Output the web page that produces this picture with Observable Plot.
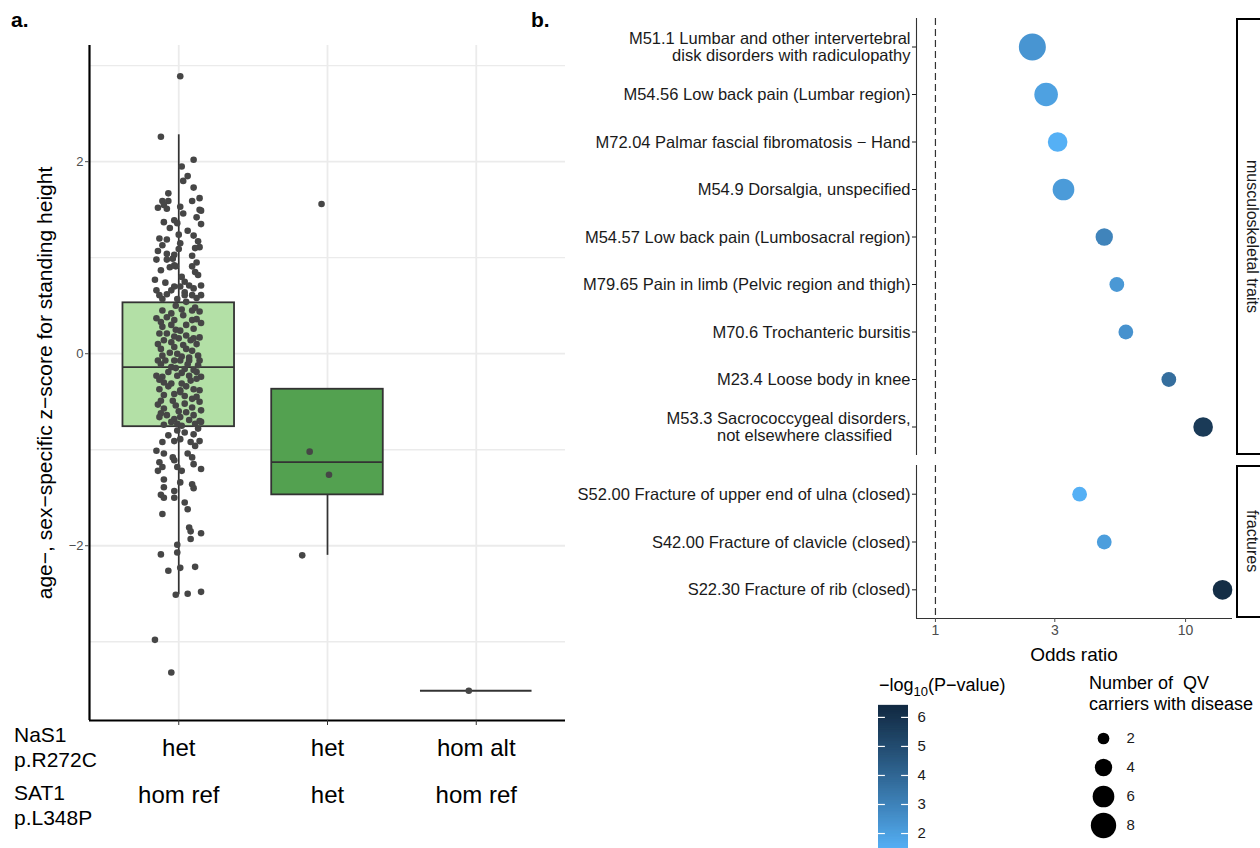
<!DOCTYPE html>
<html><head><meta charset="utf-8">
<script src="https://cdn.jsdelivr.net/npm/d3@7"></script>
<script src="https://cdn.jsdelivr.net/npm/@observablehq/plot@0.6"></script>
<style>
html,body{margin:0;padding:0;background:#fff;}
#fig{position:relative;width:1260px;height:848px;overflow:hidden;background:#fff;font-family:"Liberation Sans",Arial,sans-serif;color:#000;}
.abs{position:absolute;white-space:pre;}
.strip{position:absolute;box-sizing:border-box;border:2px solid #000;background:#fff;display:flex;align-items:center;justify-content:center;}
.strip span{writing-mode:vertical-rl;font-size:16px;color:#1a1a1a;}
</style></head><body><div id="fig"></div>
<script>
// ---------- Panel a data ----------
const groupNaS1 = ["het", "het", "hom alt"];
const groupSAT1 = ["hom ref", "het", "hom ref"];
const boxQ1 = [-0.76, -1.47, -3.51];
const boxMedian = [-0.14, -1.13, -3.51];
const boxQ3 = [0.53, -0.37, -3.51];
const whiskerLow = [-2.51, -2.10, -3.51];
const whiskerHigh = [2.28, -0.37, -3.51];

const g1Values = [2.89,2.26,2.02,1.95,1.85,1.80,1.73,1.67,1.62,1.59,1.59,1.59,1.52,1.55,1.51,1.53,1.50,1.49,1.46,1.37,1.39,1.36,1.35,1.20,1.19,1.24,1.23,1.15,1.17,1.11,1.07,1.04,1.03,1.09,1.10,1.02,0.98,0.98,0.99,0.91,0.90,0.92,0.91,0.85,0.82,0.77,0.75,0.70,0.70,0.71,0.68,0.71,0.66,0.61,0.57,0.66,0.64,0.61,0.61,0.61,0.57,0.54,
1.28,1.13,0.95,0.87,0.80,0.74,1.42,1.31,0.62,0.58,
0.45,0.42,0.45,0.44,0.37,0.38,0.35,0.35,0.32,0.28,0.30,0.30,0.21,0.21,0.24,0.19,0.17,0.14,0.12,0.16,0.14,0.16,0.05,0.07,0.05,0.03,-0.02,0.00,-0.03,-0.02,-0.07,-0.07,-0.07,-0.07,-0.07,-0.07,-0.14,-0.16,-0.17,-0.23,-0.24,-0.23,-0.23,-0.24,-0.30,-0.31,-0.31,-0.28,-0.37,-0.38,-0.37,-0.38,-0.40,-0.44,-0.49,-0.49,-0.47,-0.50,-0.57,-0.54,-0.61,-0.56,-0.59,-0.64,-0.68,-0.66,-0.64,-0.70,-0.71,-0.73,-0.75,-0.73,-0.71,
0.50,0.48,0.40,0.33,0.26,0.25,0.10,0.09,0.10,0.01,-0.04,-0.11,-0.11,-0.12,-0.19,-0.20,-0.19,-0.27,-0.26,-0.34,-0.34,-0.43,-0.45,-0.52,-0.53,-0.62,-0.60,-0.69,-0.74,0.46,0.36,0.18,-0.15,-0.42,-0.66,
-0.80,-0.82,-0.78,-0.92,-0.91,-0.89,-0.92,-0.91,-1.01,-1.04,-1.08,-1.04,-1.08,-1.11,-1.15,-1.20,-1.22,-1.18,-1.18,-1.22,-1.31,-1.34,-1.36,-1.40,-1.39,-1.43,-1.47,-1.50,-1.50,-1.55,-1.62,-1.67,-1.81,-1.85,-1.87,-1.93,-1.99,-2.09,-2.07,-2.26,-2.23,-2.22,-2.51,-2.50,-2.48,-2.98,-3.32,
-0.85,-0.96,-0.84,-1.13];
const g1Jitter = [0.01,-0.12,0.10,0.02,0.06,0.03,0.10,-0.07,0.14,-0.11,-0.07,0.09,-0.14,-0.10,-0.08,0.01,0.14,0.15,0.03,-0.10,-0.03,-0.01,0.15,-0.13,-0.08,0.00,0.10,0.01,0.13,0.14,-0.14,-0.08,-0.03,0.00,0.11,0.09,-0.15,-0.08,-0.04,-0.02,-0.06,-0.03,0.09,0.11,0.13,-0.16,0.04,-0.03,0.01,0.07,0.10,0.15,-0.15,-0.13,-0.11,-0.05,0.04,0.04,0.09,0.15,-0.01,0.05,
0.06,-0.11,0.12,-0.12,0.02,-0.09,0.12,-0.06,-0.08,0.12,
-0.11,-0.05,0.09,0.14,-0.15,-0.08,-0.03,0.09,0.15,-0.11,-0.05,0.05,-0.13,-0.08,0.01,0.05,0.14,-0.10,-0.05,0.00,0.08,0.10,-0.12,-0.03,0.05,0.09,-0.11,-0.01,0.02,0.13,-0.14,-0.09,-0.03,0.01,0.07,0.14,-0.05,0.04,0.10,-0.15,-0.11,-0.01,0.07,0.15,-0.10,-0.05,0.02,0.08,-0.13,0.01,0.10,0.14,0.01,0.04,-0.12,-0.04,0.09,0.14,-0.10,-0.02,0.05,0.09,0.15,-0.08,-0.03,0.01,0.10,0.14,-0.05,-0.01,0.02,0.11,0.15,
-0.02,0.11,0.03,-0.12,0.10,-0.02,-0.14,0.03,0.12,-0.06,0.07,-0.12,0.06,0.13,-0.07,0.02,0.12,-0.13,0.12,-0.07,0.05,-0.10,0.12,0.04,-0.14,-0.12,0.00,0.07,-0.10,0.02,0.12,-0.03,-0.02,-0.03,-0.13,
-0.01,0.04,0.13,-0.11,-0.03,0.01,0.08,0.14,-0.15,-0.10,-0.04,0.06,0.09,-0.03,0.10,0.15,-0.14,-0.11,-0.01,0.02,-0.10,0.01,0.09,0.10,-0.10,-0.03,-0.12,-0.10,-0.03,0.04,0.06,-0.11,0.07,0.08,0.15,0.08,-0.01,-0.12,-0.01,-0.07,0.01,0.11,-0.02,0.06,0.15,-0.16,-0.05,
-0.07,0.11,0.10,-0.13];
const g2Values = [1.56, -1.02, -1.26, -2.10];
const g2Jitter = [-0.04, -0.12, 0.01, -0.17];
const g3Values = [-3.51];
const g3Jitter = [-0.05];

// ---------- Panel b data ----------
const muscLabels = [
  "M51.1 Lumbar and other intervertebral\ndisk disorders with radiculopathy",
  "M54.56 Low back pain (Lumbar region)",
  "M72.04 Palmar fascial fibromatosis \u2212 Hand",
  "M54.9 Dorsalgia, unspecified",
  "M54.57 Low back pain (Lumbosacral region)",
  "M79.65 Pain in limb (Pelvic region and thigh)",
  "M70.6 Trochanteric bursitis",
  "M23.4 Loose body in knee",
  "M53.3 Sacrococcygeal disorders,\nnot elsewhere classified\u00a0\u00a0\u00a0\u00a0"
];
const muscOR = [2.44, 2.77, 3.08, 3.25, 4.73, 5.31, 5.77, 8.57, 11.75];
const muscN = [9, 7, 5, 6, 4, 3, 3, 3, 5];
const muscLogP = [2.4, 2.0, 1.5, 2.2, 3.0, 2.3, 2.5, 3.8, 5.8];
const fracLabels = [
  "S52.00 Fracture of upper end of ulna (closed)",
  "S42.00 Fracture of clavicle (closed)",
  "S22.30 Fracture of rib (closed)"
];
const fracOR = [3.77, 4.73, 14.05];
const fracN = [3, 3, 5];
const fracLogP = [1.5, 2.1, 6.3];
const facetNames = ["musculoskeletal traits", "fractures"];
const orTicks = [1, 3, 10];
const colorTicks = [2, 3, 4, 5, 6];
const sizeBreaks = [2, 4, 6, 8];

// ---------- styles ----------
const BOX_FILLS = ["#b3e0a6", "#53a150", "#53a150"];
const FONT = '"Liberation Sans", Arial, sans-serif';
const svgStyle = {background: "none", overflow: "visible", fontFamily: FONT};
const fig = document.getElementById("fig");
function place(el, left, top) {
  el.style.position = "absolute"; el.style.left = left + "px"; el.style.top = top + "px";
  el.style.maxWidth = "none";
  fig.appendChild(el);
}
function html(text, left, top, css) {
  const d = document.createElement("div");
  d.className = "abs"; d.innerHTML = text;
  d.style.cssText += css;
  place(d, left, top);
  return d;
}
const minus = d => d < 0 ? "\u2212" + (-d) : String(d);

// ---------- Panel a ----------
const boxes = groupNaS1.map((n, i) => ({pos: i + 1, nas1: n, sat1: groupSAT1[i], q1: boxQ1[i], med: boxMedian[i], q3: boxQ3[i], lo: whiskerLow[i], hi: whiskerHigh[i], fill: BOX_FILLS[i]}));
const pts = [];
g1Values.forEach((v, i) => pts.push({pos: 1, v, j: g1Jitter[i]}));
g2Values.forEach((v, i) => pts.push({pos: 2, v, j: g2Jitter[i]}));
g3Values.forEach((v, i) => pts.push({pos: 3, v, j: g3Jitter[i]}));
const HW = 0.375;
const Y0 = -3.82, Y1 = 3.21, X0 = 0.4, X1 = 3.6;

const left = Plot.plot({
  width: 570, height: 830, marginLeft: 89, marginRight: 5, marginTop: 45, marginBottom: 110,
  style: svgStyle,
  x: {type: "linear", domain: [X0, X1], axis: null},
  y: {domain: [Y0, Y1], axis: null},
  color: {type: "identity"},
  marks: [
    Plot.gridY([-3, -1, 1, 3], {stroke: "#ebebeb", strokeOpacity: 1, strokeWidth: 1.3}),
    Plot.gridY([-2, 0, 2], {stroke: "#ebebeb", strokeOpacity: 1, strokeWidth: 1.8}),
    Plot.gridX([1, 2, 3], {stroke: "#ebebeb", strokeOpacity: 1, strokeWidth: 1.8}),
    Plot.ruleX(boxes.filter(d => d.hi > d.q3), {x: "pos", y1: "q3", y2: "hi", stroke: "#333", strokeWidth: 1.7}),
    Plot.ruleX(boxes.filter(d => d.lo < d.q1), {x: "pos", y1: "lo", y2: "q1", stroke: "#333", strokeWidth: 1.7}),
    Plot.rect(boxes.filter(d => d.q3 > d.q1), {x1: d => d.pos - HW, x2: d => d.pos + HW, y1: "q1", y2: "q3", fill: "fill", stroke: "#333", strokeWidth: 1.8}),
    Plot.ruleY(boxes, {y: "med", x1: d => d.pos - HW, x2: d => d.pos + HW, stroke: "#333", strokeWidth: 1.8}),
    Plot.dot(pts, {x: d => d.pos + d.j, y: "v", r: 3.3, fill: "#464646", stroke: "none"}),
    Plot.ruleX([X0], {stroke: "#000", strokeWidth: 2.2}),
    Plot.ruleY([Y0], {stroke: "#000", strokeWidth: 2.2}),
    Plot.axisY({ticks: [-2, 0, 2], tickSize: 4, tickPadding: 2, fontSize: 13, color: "#4d4d4d", tickFormat: minus, label: null}),
    Plot.axisX({ticks: [1, 2, 3], tickSize: 5, tickFormat: () => "", color: "#333", label: null}),
    Plot.text(boxes, {x: "pos", text: "nas1", frameAnchor: "bottom", dy: 35, fontSize: 24, fill: "#000"}),
    Plot.text(boxes, {x: "pos", text: "sat1", frameAnchor: "bottom", dy: 82, fontSize: 24, fill: "#000"})
  ]
});
place(left, 0, 0);

// ---------- Panel b ----------
const colorOpts = {type: "linear", domain: [1.45, 6.41], range: ["#56B1F7", "#132B43"], interpolate: d3.interpolateLab};
const rOpts = {type: "sqrt", domain: [2, 9], range: [5.85, 13.5]};
const XMIN = 0.84, XMAX = 15.4;

function facetPlot(labels, ors, ns, ps, top, frameH, withAxis) {
  const n = labels.length;
  const rows = labels.map((l, i) => ({i, label: l, or: ors[i], n: ns[i], p: ps[i]}));
  const marks = [
    Plot.ruleX([XMIN], {stroke: "#333", strokeWidth: 1.1}),
    Plot.ruleX([1], {stroke: "#333", strokeWidth: 1.2, strokeDasharray: "7,4"}),
    Plot.dot(rows, {x: "or", y: "i", r: "n", fill: "p", stroke: "none"}),
    Plot.axisY({ticks: d3.range(n), tickFormat: i => labels[i], tickSize: 4, tickPadding: 2, fontSize: 16.5, color: "#1a1a1a", lineHeight: 1.04, label: null})
  ];
  if (withAxis) {
    marks.push(Plot.ruleY([n - 0.4], {stroke: "#333", strokeWidth: 1.1}));
    marks.push(Plot.axisX({ticks: orTicks, tickFormat: d => String(d), tickSize: 4, tickPadding: 3, fontSize: 14, color: "#4d4d4d", label: null}));
  }
  const mb = withAxis ? 45 : 2;
  const p = Plot.plot({
    width: 700, height: 2 + frameH + mb, marginLeft: 376, marginRight: 8, marginTop: 2, marginBottom: mb,
    style: svgStyle,
    x: {type: "log", domain: [XMIN, XMAX], axis: null},
    y: {domain: [n - 0.4, -0.6], axis: null},
    color: colorOpts, r: rOpts,
    marks
  });
  place(p, 540, top - 2);
}
facetPlot(muscLabels, muscOR, muscN, muscLogP, 18, 437, false);
facetPlot(fracLabels, fracOR, fracN, fracLogP, 465, 153, true);

// strips
[[facetNames[0], 18, 437], [facetNames[1], 465, 153]].forEach(([t, top, h]) => {
  const s = document.createElement("div");
  s.className = "strip"; s.style.width = "31px"; s.style.height = h + "px";
  s.innerHTML = "<span>" + t + "</span>";
  place(s, 1236, top);
});

// colorbar legend
const cbVals = d3.range(1.45, 6.415, 0.01);
const cb = Plot.plot({
  width: 70, height: 160, marginLeft: 0, marginRight: 40, marginTop: 5, marginBottom: 11,
  style: svgStyle,
  x: {domain: [0, 1], axis: null},
  y: {domain: [1.45, 6.41], axis: null},
  color: colorOpts,
  marks: [
    Plot.ruleY(cbVals, {y: d => d, stroke: d => d, strokeWidth: 1.3}),
    Plot.ruleY(colorTicks, {y: d => d, x1: 0, x2: 0.23, stroke: "white", strokeWidth: 1.2}),
    Plot.ruleY(colorTicks, {y: d => d, x1: 0.77, x2: 1, stroke: "white", strokeWidth: 1.2}),
    Plot.axisY({anchor: "right", ticks: colorTicks, tickFormat: d => String(d), tickSize: 0, tickPadding: 9, fontSize: 15, color: "#1a1a1a", label: null})
  ]
});
place(cb, 878, 700);

// size legend
const sz = Plot.plot({
  width: 120, height: 125, marginLeft: 23, marginRight: 10, marginTop: 17, marginBottom: 19,
  style: svgStyle,
  x: {domain: [0, 1], axis: null},
  y: {type: "point", domain: sizeBreaks, padding: 0, axis: null},
  r: rOpts,
  marks: [
    Plot.dot(sizeBreaks, {x: 0, y: d => d, r: d => d, fill: "#000"}),
    Plot.text(sizeBreaks, {x: 0, y: d => d, text: d => String(d), dx: 23, textAnchor: "start", fontSize: 15, fill: "#1a1a1a"})
  ]
});
place(sz, 1080, 720);

// ---------- HTML text ----------
html("a.", 11, 8, "font-size:21px;font-weight:bold;line-height:24px;");
html("b.", 531, 8, "font-size:21px;font-weight:bold;line-height:24px;");
html("age\u2212, sex\u2212specific z\u2212score for standing height", -215, 371,
  "width:520px;height:24px;line-height:24px;text-align:center;font-size:21px;transform:rotate(-90deg);");
html("NaS1\np.R272C", 14, 722, "font-size:21px;line-height:25px;");
html("SAT1\np.L348P", 14, 780, "font-size:21px;line-height:25px;");
html("Odds ratio", 974, 644, "width:200px;text-align:center;font-size:19px;line-height:22px;");
html("\u2212log<sub style='font-size:13px'>10</sub>(P\u2212value)", 879, 674, "font-size:18px;line-height:22px;");
html("Number of  QV\ncarriers with disease", 1089, 673, "font-size:18px;line-height:21px;");
</script></body></html>
